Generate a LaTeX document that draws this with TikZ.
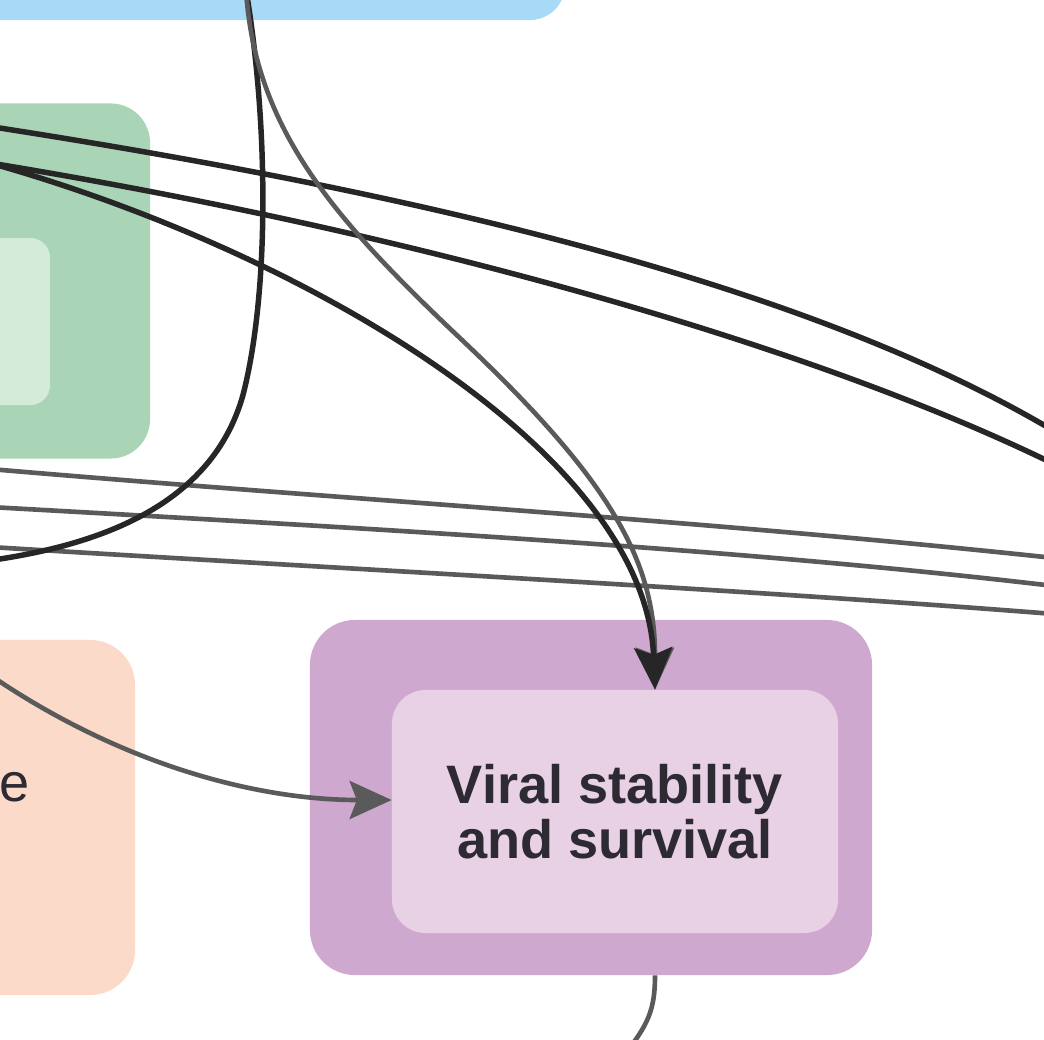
\documentclass[tikz,border=0pt]{standalone}
\usepackage{fontspec}
\setmainfont{Liberation Sans}
\usepackage{xcolor}
\usetikzlibrary{arrows.meta, positioning, calc}

\definecolor{cellblue}{HTML}{A6DAF5}
\definecolor{hostgreen}{HTML}{A9D4B5}
\definecolor{hostlight}{HTML}{D4EBD9}
\definecolor{envpeach}{HTML}{FBDACA}
\definecolor{viralpurple}{HTML}{CEA8CE}
\definecolor{virallight}{HTML}{E8D1E5}
\definecolor{inkdark}{HTML}{2D2A33}
\definecolor{linedark}{HTML}{262626}
\definecolor{linegray}{HTML}{5A5A5A}

\begin{document}
\begin{tikzpicture}[
    x=0.025cm, y=-0.025cm,
    outerbox/.style={rounded corners=32pt, inner sep=0pt, minimum width=14.05cm, minimum height=8.875cm},
    innerbox/.style={rounded corners=24pt, inner sep=0pt, minimum width=11.15cm, minimum height=6.075cm, align=center},
    darkline/.style={draw=linedark, line width=3.9pt},
    grayline/.style={draw=linegray, line width=3.3pt},
    arrow/.style={-{Stealth[length=1.05cm, width=0.95cm, inset=0.18cm]}}
]
    \useasboundingbox (0,0) rectangle (1044,1039);
    \clip (0,0) rectangle (1044,1039);

    % Boxes
    \node[outerbox, fill=cellblue, minimum width=16.625cm, rounded corners=25pt] (cell) at (232.5,-157.5) {};
    \node[outerbox, fill=hostgreen, rounded corners=28pt] (host) at (-131,281) {};
    \node[innerbox, fill=hostlight, minimum height=4.175cm, rounded corners=14pt] (hostin) at (-173,321.5) {};
    \node[outerbox, fill=envpeach] (env) at (-146,817.5) {};
    \node[anchor=base west, inner sep=0pt, font=\fontsize{38.5}{40}\selectfont, text=inkdark] (envtext) at (-1,801) {e};
    \node[outerbox, fill=viralpurple] (viral) at (591,797.5) {};
    \node[innerbox, fill=virallight, text=inkdark, font=\fontsize{38.5}{39.5}\selectfont\bfseries] (viralin) at (615,811.5) {Viral stability\\and survival};

    % Free ends
    \coordinate (srcA) at (-10,126.5);
    \coordinate (endA) at (1054,431);
    \coordinate (srcB) at (-10,163);
    \coordinate (endB) at (1054,464);
    \coordinate (srcD) at (246,-10);
    \coordinate (endD) at (-30,563);
    \coordinate (srcF) at (-20,668);
    \coordinate (srcG1) at (-10,469);
    \coordinate (endG1) at (1054,558);
    \coordinate (srcG2) at (-10,507);
    \coordinate (endG2) at (1054,586);
    \coordinate (srcG3) at (-10,547);
    \coordinate (endG3) at (1054,614);
    \coordinate (endH) at (624,1055);

    % Connectors
    \draw[grayline] (srcG1) .. controls (350,500) and (700,520) .. (endG1);
    \draw[grayline] (srcG2) .. controls (400,530) and (750,550) .. (endG2);
    \draw[grayline] (srcG3) .. controls (400,572) and (750,590) .. (endG3);

    \draw[darkline] (srcA) .. controls (400,190) and (800,280) .. (endA);
    \draw[darkline] (srcB) .. controls (400,230) and (800,340) .. (endB);
    \draw[darkline] (srcD) .. controls (268,120) and (270,290) .. (243,395)
        .. controls (212,505) and (100,548) .. (endD);

    \draw[grayline, arrow] (srcD) .. controls (255,130) and (335,220) .. (462,340)
        .. controls (610,480) and (655,560) .. ($(viralin.north)+(40,0)$);
    \draw[darkline, arrow] (srcB) .. controls (300,250) and (645,450) .. ($(viralin.north)+(40,0)$);

    \draw[grayline, arrow] (srcF) .. controls (110,760) and (250,800) .. ($(viralin.west)+(0,-11.5)$);
    \draw[grayline] ($(viral.south)+(64,0)$) .. controls (655,1010) and (648,1025) .. (endH);
\end{tikzpicture}
\end{document}
